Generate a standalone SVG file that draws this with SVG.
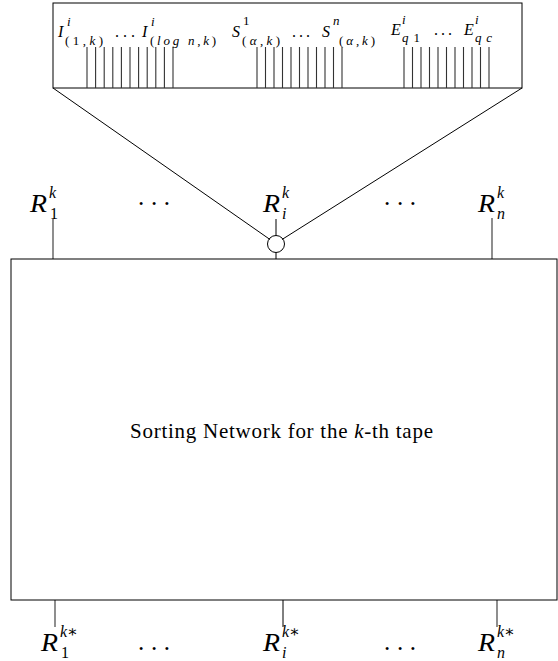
<svg xmlns="http://www.w3.org/2000/svg" width="558" height="661" viewBox="0 0 558 661">
<style>
.ln{stroke:#000;stroke-width:1;fill:none}
.gl{stroke:#333;stroke-width:1.1;fill:none}
text{font-family:'Liberation Serif','DejaVu Serif',serif;fill:#000}
.i{font-style:italic}
.M{font-size:16px}
.s{font-size:13px}
.L{font-size:25px}
.S{font-size:16px}
.t{font-size:21px}
</style>
<rect width="558" height="661" fill="#fff"/>
<g id="tape-box">
<rect x="53" y="3" width="469" height="85" class="ln"/>
<g class="gl">
<path d="M87 47V88M95.6 47V88M104.2 47V88M112.8 47V88M121.4 47V88M130 47V88M138.6 47V88M147.2 47V88M155.8 47V88M164.4 47V88M173 47V88"/>
<path d="M257 47V88M265.5 47V88M274 47V88M282.5 47V88M291 47V88M299.5 47V88M308 47V88M316.5 47V88M325 47V88M333.5 47V88M342 47V88"/>
<path d="M404 47V88M412.5 47V88M421 47V88M429.5 47V88M438 47V88M446.5 47V88M455 47V88M463.5 47V88M472 47V88M480.5 47V88M489 47V88"/>
</g>
<text class="i M" x="58" y="37">I</text><text class="i s" x="67" y="26">i</text>
<text class="s" x="65" y="45" textLength="38" lengthAdjust="spacing">(1,<tspan class="i">k</tspan>)</text>
<text class="M" x="115" y="37" textLength="20" lengthAdjust="spacing">...</text>
<text class="i M" x="142" y="37">I</text><text class="i s" x="151" y="26">i</text>
<text class="s" x="150" y="45" textLength="66" lengthAdjust="spacing">(<tspan class="i">log</tspan> <tspan class="i">n</tspan>,<tspan class="i">k</tspan>)</text>
<text class="i M" x="232" y="37">S</text><text class="s" x="243" y="25">1</text>
<text class="s" x="242" y="45" textLength="38" lengthAdjust="spacing">(<tspan class="i">α</tspan>,<tspan class="i">k</tspan>)</text>
<text class="M" x="292" y="37" textLength="18" lengthAdjust="spacing">...</text>
<text class="i M" x="322" y="37">S</text><text class="i s" x="333" y="25">n</text>
<text class="s" x="339" y="45" textLength="36" lengthAdjust="spacing">(<tspan class="i">α</tspan>,<tspan class="i">k</tspan>)</text>
<text class="i M" x="391" y="35">E</text><text class="i s" x="402" y="24">i</text>
<text class="s" x="402" y="42" font-size="14" textLength="18" lengthAdjust="spacing"><tspan class="i">q</tspan>1</text>
<text class="M" x="434" y="35" textLength="18" lengthAdjust="spacing">...</text>
<text class="i M" x="464" y="35">E</text><text class="i s" x="475" y="24">i</text>
<text class="s i" x="475" y="42" font-size="14" textLength="17" lengthAdjust="spacing">qc</text>
</g>
<g id="connectors">
<path class="ln" d="M53 88L270 239.5M522 88L282 239.5"/>
<path class="ln" d="M276 219V235.5M276 252.5V259"/>
<path class="gl" d="M53 219V259M492 218V259"/>
<path class="gl" d="M55 600V627M497 600V627"/>
<path class="ln" d="M283 600V627"/>
</g>
<g id="mux">
<circle cx="276" cy="244" r="8.5" class="ln" fill="#fff"/>
</g>
<g id="top-labels">
<text class="i L" x="30" y="212" textLength="17" lengthAdjust="spacingAndGlyphs">R</text><text class="i S" x="49" y="198">k</text><text class="S" x="50" y="219">1</text>
<text class="L" x="138" y="205" textLength="32" lengthAdjust="spacing">...</text>
<text class="i L" x="263" y="212" textLength="17" lengthAdjust="spacingAndGlyphs">R</text><text class="i S" x="282" y="198">k</text><text class="i S" x="282" y="219">i</text>
<text class="L" x="384" y="205" textLength="32" lengthAdjust="spacing">...</text>
<text class="i L" x="478" y="212" textLength="17" lengthAdjust="spacingAndGlyphs">R</text><text class="i S" x="497" y="198">k</text><text class="i S" x="497" y="219">n</text>
</g>
<g id="sorting-network">
<rect x="11" y="259" width="546" height="341" class="ln"/>
<text class="t" x="130" y="438" textLength="303" lengthAdjust="spacing">Sorting Network for the <tspan class="i">k</tspan>-th tape</text>
</g>
<g id="bottom-labels">
<text class="i L" x="41" y="651" textLength="17" lengthAdjust="spacingAndGlyphs">R</text><text class="i S" x="60" y="637">k∗</text><text class="S" x="61" y="658">1</text>
<text class="L" x="138" y="650" textLength="32" lengthAdjust="spacing">...</text>
<text class="i L" x="263" y="651" textLength="17" lengthAdjust="spacingAndGlyphs">R</text><text class="i S" x="282" y="637">k∗</text><text class="i S" x="282" y="658">i</text>
<text class="L" x="384" y="650" textLength="32" lengthAdjust="spacing">...</text>
<text class="i L" x="478" y="651" textLength="17" lengthAdjust="spacingAndGlyphs">R</text><text class="i S" x="497" y="637">k∗</text><text class="i S" x="497" y="658">n</text>
</g>
</svg>
